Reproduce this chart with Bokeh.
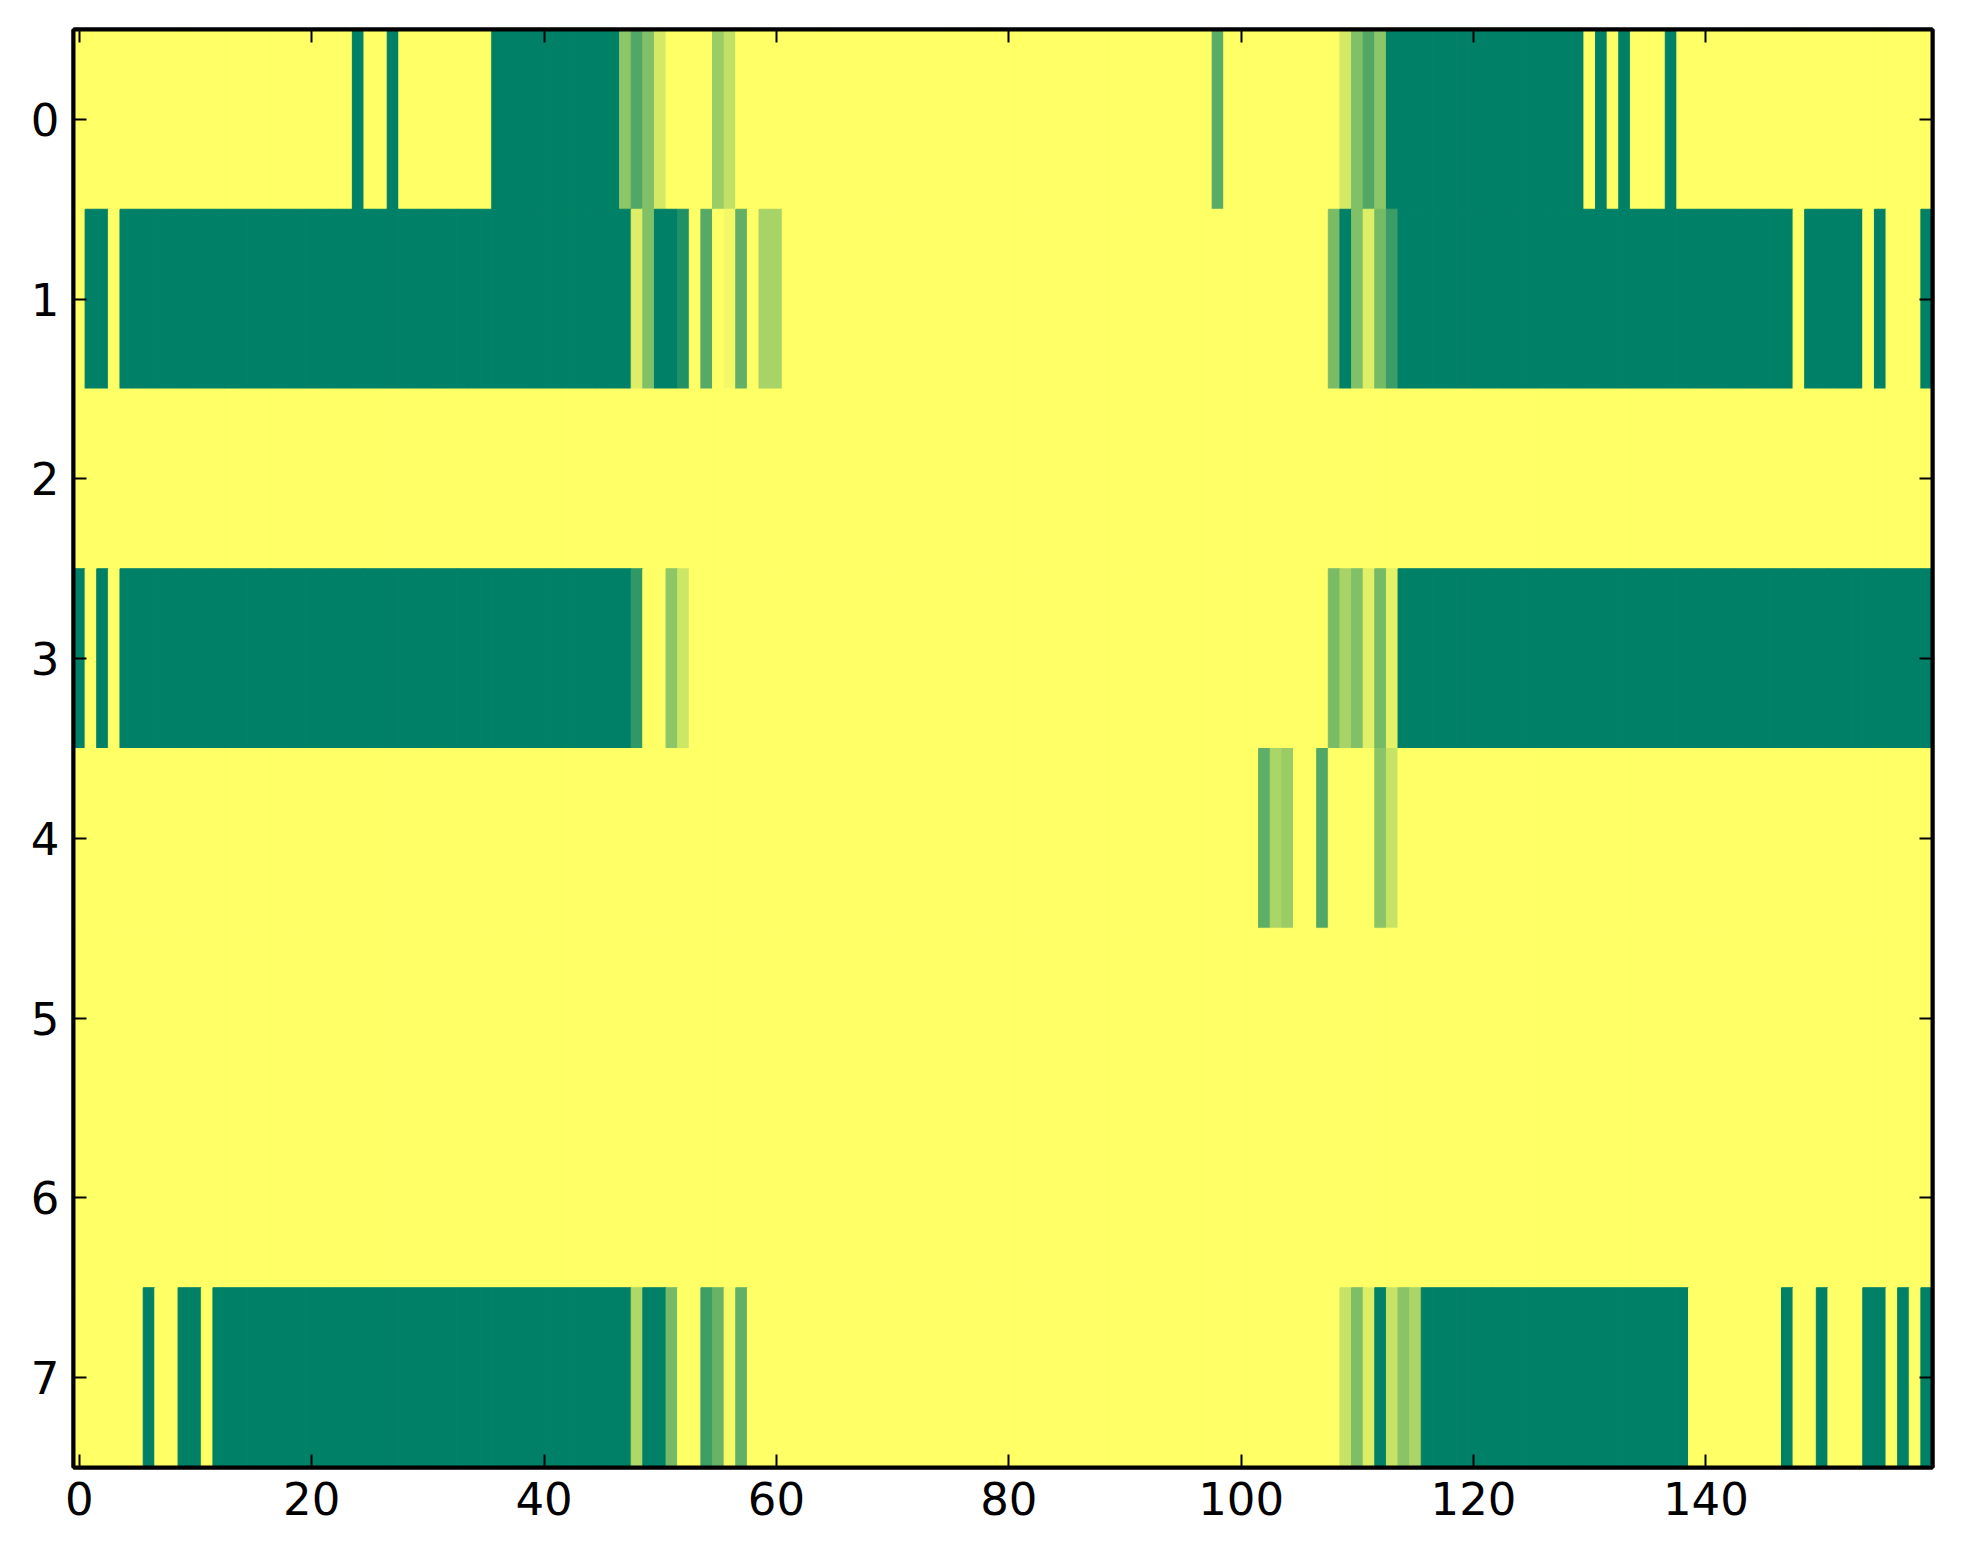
from bokeh.plotting import figure
from bokeh.models import Range1d, LinearColorMapper, FixedTicker, LinearAxis, CustomJSTickFormatter, ColumnDataSource
from bokeh.embed import file_html
from bokeh.resources import INLINE

# ---- data: 8 rows x 160 columns, values in [0, 1] ----
row0 = [
    1, 1, 1, 1, 1, 1, 1, 1, 1, 1, 1, 1, 1, 1, 1, 1, 1, 1, 1, 1,
    1, 1, 1, 1, 0, 1, 1, 0, 1, 1, 1, 1, 1, 1, 1, 1, 0, 0, 0, 0,
    0, 0, 0, 0, 0, 0, 0, .55, .32, .50, .83, 1, 1, 1, 1, .60, .75, 1, 1, 1,
    1, 1, 1, 1, 1, 1, 1, 1, 1, 1, 1, 1, 1, 1, 1, 1, 1, 1, 1, 1,
    1, 1, 1, 1, 1, 1, 1, 1, 1, 1, 1, 1, 1, 1, 1, 1, 1, 1, .35, 1,
    1, 1, 1, 1, 1, 1, 1, 1, 1, .83, .50, .32, .55, 0, 0, 0, 0, 0, 0, 0,
    0, 0, 0, 0, 0, 0, 0, 0, 0, 0, 1, 0, 1, 0, 1, 1, 1, 0, 1, 1,
    1, 1, 1, 1, 1, 1, 1, 1, 1, 1, 1, 1, 1, 1, 1, 1, 1, 1, 1, 1,
]
row1 = [
    1, 0, 0, 1, 0, 0, 0, 0, 0, 0, 0, 0, 0, 0, 0, 0, 0, 0, 0, 0,
    0, 0, 0, 0, 0, 0, 0, 0, 0, 0, 0, 0, 0, 0, 0, 0, 0, 0, 0, 0,
    0, 0, 0, 0, 0, 0, 0, 0, .87, .50, 0, 0, .13, 1, .33, 1, .95, .38, 1, .66,
    .66, 1, 1, 1, 1, 1, 1, 1, 1, 1, 1, 1, 1, 1, 1, 1, 1, 1, 1, 1,
    1, 1, 1, 1, 1, 1, 1, 1, 1, 1, 1, 1, 1, 1, 1, 1, 1, 1, 1, 1,
    1, 1, 1, 1, 1, 1, 1, 1, .48, 0, .50, .87, .46, .23, 0, 0, 0, 0, 0, 0,
    0, 0, 0, 0, 0, 0, 0, 0, 0, 0, 0, 0, 0, 0, 0, 0, 0, 0, 0, 0,
    0, 0, 0, 0, 0, 0, 0, 0, 1, 0, 0, 0, 0, 0, 1, 0, 1, 1, 1, 0,
]
row2 = [
    1, 1, 1, 1, 1, 1, 1, 1, 1, 1, 1, 1, 1, 1, 1, 1, 1, 1, 1, 1,
    1, 1, 1, 1, 1, 1, 1, 1, 1, 1, 1, 1, 1, 1, 1, 1, 1, 1, 1, 1,
    1, 1, 1, 1, 1, 1, 1, 1, 1, 1, 1, 1, 1, 1, 1, 1, 1, 1, 1, 1,
    1, 1, 1, 1, 1, 1, 1, 1, 1, 1, 1, 1, 1, 1, 1, 1, 1, 1, 1, 1,
    1, 1, 1, 1, 1, 1, 1, 1, 1, 1, 1, 1, 1, 1, 1, 1, 1, 1, 1, 1,
    1, 1, 1, 1, 1, 1, 1, 1, 1, 1, 1, 1, 1, 1, 1, 1, 1, 1, 1, 1,
    1, 1, 1, 1, 1, 1, 1, 1, 1, 1, 1, 1, 1, 1, 1, 1, 1, 1, 1, 1,
    1, 1, 1, 1, 1, 1, 1, 1, 1, 1, 1, 1, 1, 1, 1, 1, 1, 1, 1, 1,
]
row3 = [
    0, 1, 0, 1, 0, 0, 0, 0, 0, 0, 0, 0, 0, 0, 0, 0, 0, 0, 0, 0,
    0, 0, 0, 0, 0, 0, 0, 0, 0, 0, 0, 0, 0, 0, 0, 0, 0, 0, 0, 0,
    0, 0, 0, 0, 0, 0, 0, 0, .19, 1, 1, .55, .80, 1, 1, 1, 1, 1, 1, 1,
    1, 1, 1, 1, 1, 1, 1, 1, 1, 1, 1, 1, 1, 1, 1, 1, 1, 1, 1, 1,
    1, 1, 1, 1, 1, 1, 1, 1, 1, 1, 1, 1, 1, 1, 1, 1, 1, 1, 1, 1,
    1, 1, 1, 1, 1, 1, 1, 1, .48, .66, .50, .88, .46, .90, 0, 0, 0, 0, 0, 0,
    0, 0, 0, 0, 0, 0, 0, 0, 0, 0, 0, 0, 0, 0, 0, 0, 0, 0, 0, 0,
    0, 0, 0, 0, 0, 0, 0, 0, 0, 0, 0, 0, 0, 0, 0, 0, 0, 0, 0, 0,
]
row4 = [
    1, 1, 1, 1, 1, 1, 1, 1, 1, 1, 1, 1, 1, 1, 1, 1, 1, 1, 1, 1,
    1, 1, 1, 1, 1, 1, 1, 1, 1, 1, 1, 1, 1, 1, 1, 1, 1, 1, 1, 1,
    1, 1, 1, 1, 1, 1, 1, 1, 1, 1, 1, 1, 1, 1, 1, 1, 1, 1, 1, 1,
    1, 1, 1, 1, 1, 1, 1, 1, 1, 1, 1, 1, 1, 1, 1, 1, 1, 1, 1, 1,
    1, 1, 1, 1, 1, 1, 1, 1, 1, 1, 1, 1, 1, 1, 1, 1, 1, 1, 1, 1,
    1, 1, .37, .67, .60, 1, 1, .32, 1, 1, 1, 1, .54, .78, 1, 1, 1, 1, 1, 1,
    1, 1, 1, 1, 1, 1, 1, 1, 1, 1, 1, 1, 1, 1, 1, 1, 1, 1, 1, 1,
    1, 1, 1, 1, 1, 1, 1, 1, 1, 1, 1, 1, 1, 1, 1, 1, 1, 1, 1, 1,
]
row5 = list(row2)
row6 = list(row2)
row7 = [
    1, 1, 1, 1, 1, 1, 0, 1, 1, 0, 0, 1, 0, 0, 0, 0, 0, 0, 0, 0,
    0, 0, 0, 0, 0, 0, 0, 0, 0, 0, 0, 0, 0, 0, 0, 0, 0, 0, 0, 0,
    0, 0, 0, 0, 0, 0, 0, 0, .69, 0, 0, .46, 1, 1, .24, .41, .96, .38, 1, 1,
    1, 1, 1, 1, 1, 1, 1, 1, 1, 1, 1, 1, 1, 1, 1, 1, 1, 1, 1, 1,
    1, 1, 1, 1, 1, 1, 1, 1, 1, 1, 1, 1, 1, 1, 1, 1, 1, 1, 1, 1,
    1, 1, 1, 1, 1, 1, 1, 1, 1, .78, .49, .86, 0, .78, .54, .67, 0, 0, 0, 0,
    0, 0, 0, 0, 0, 0, 0, 0, 0, 0, 0, 0, 0, 0, 0, 0, 0, 0, 0, 1,
    1, 1, 1, 1, 1, 1, 1, 0, 1, 1, 0, 1, 1, 1, 0, 0, 1, 0, 1, 0,
]
rows = [row0, row1, row2, row3, row4, row5, row6, row7]
x_ticks = [0, 20, 40, 60, 80, 100, 120, 140]
y_ticks = [0, 1, 2, 3, 4, 5, 6, 7]

# ---- 'summer' colormap palette ----
def _hex(r, g, b):
    return "#%02x%02x%02x" % (round(r * 255), round(g * 255), round(b * 255))

summer = [_hex(i / 255, 0.5 + 0.5 * i / 255, 0.4) for i in range(256)]
mapper = LinearColorMapper(palette=summer, low=0, high=1)

xs, ys, vs = [], [], []
for r, vals in enumerate(rows):
    for c, v in enumerate(vals):
        xs.append(c)
        ys.append(r)
        vs.append(v)
src = ColumnDataSource(dict(x=xs, y=ys, v=vs))

p = figure(width=1947, height=1548, output_backend="svg", toolbar_location=None,
           x_range=Range1d(-0.5, 159.5), y_range=Range1d(7.5, -0.5),
           min_border_left=73, min_border_right=15, min_border_top=29, min_border_bottom=81)
p.rect(x="x", y="y", width=1, height=1, source=src,
       fill_color={"field": "v", "transform": mapper},
       line_color={"field": "v", "transform": mapper}, line_width=1)

p.xgrid.visible = False
p.ygrid.visible = False
p.outline_line_color = "black"
p.outline_line_width = 4
p.background_fill_color = "white"
p.border_fill_color = "white"

FONT = "DejaVu Sans"

def style(ax, ticks, labels=True):
    ax.ticker = FixedTicker(ticks=ticks)
    ax.major_tick_in = 13
    ax.major_tick_out = 0
    ax.minor_tick_line_color = None
    ax.major_tick_line_width = 2
    ax.major_tick_line_color = "black"
    ax.axis_line_color = "black"
    ax.axis_line_width = 4
    ax.major_label_text_font = FONT
    ax.major_label_text_font_size = "45px"
    ax.major_label_text_color = "black"
    if not labels:
        ax.formatter = CustomJSTickFormatter(code="return ''")
        ax.major_label_standoff = 0

style(p.xaxis[0], x_ticks)
p.xaxis[0].major_label_standoff = 14
style(p.yaxis[0], y_ticks)
p.yaxis[0].major_label_standoff = 14

top = LinearAxis()
style(top, x_ticks, labels=False)
p.add_layout(top, "above")
right = LinearAxis()
style(right, y_ticks, labels=False)
p.add_layout(right, "right")

open("out.html", "w").write(file_html(p, INLINE))
